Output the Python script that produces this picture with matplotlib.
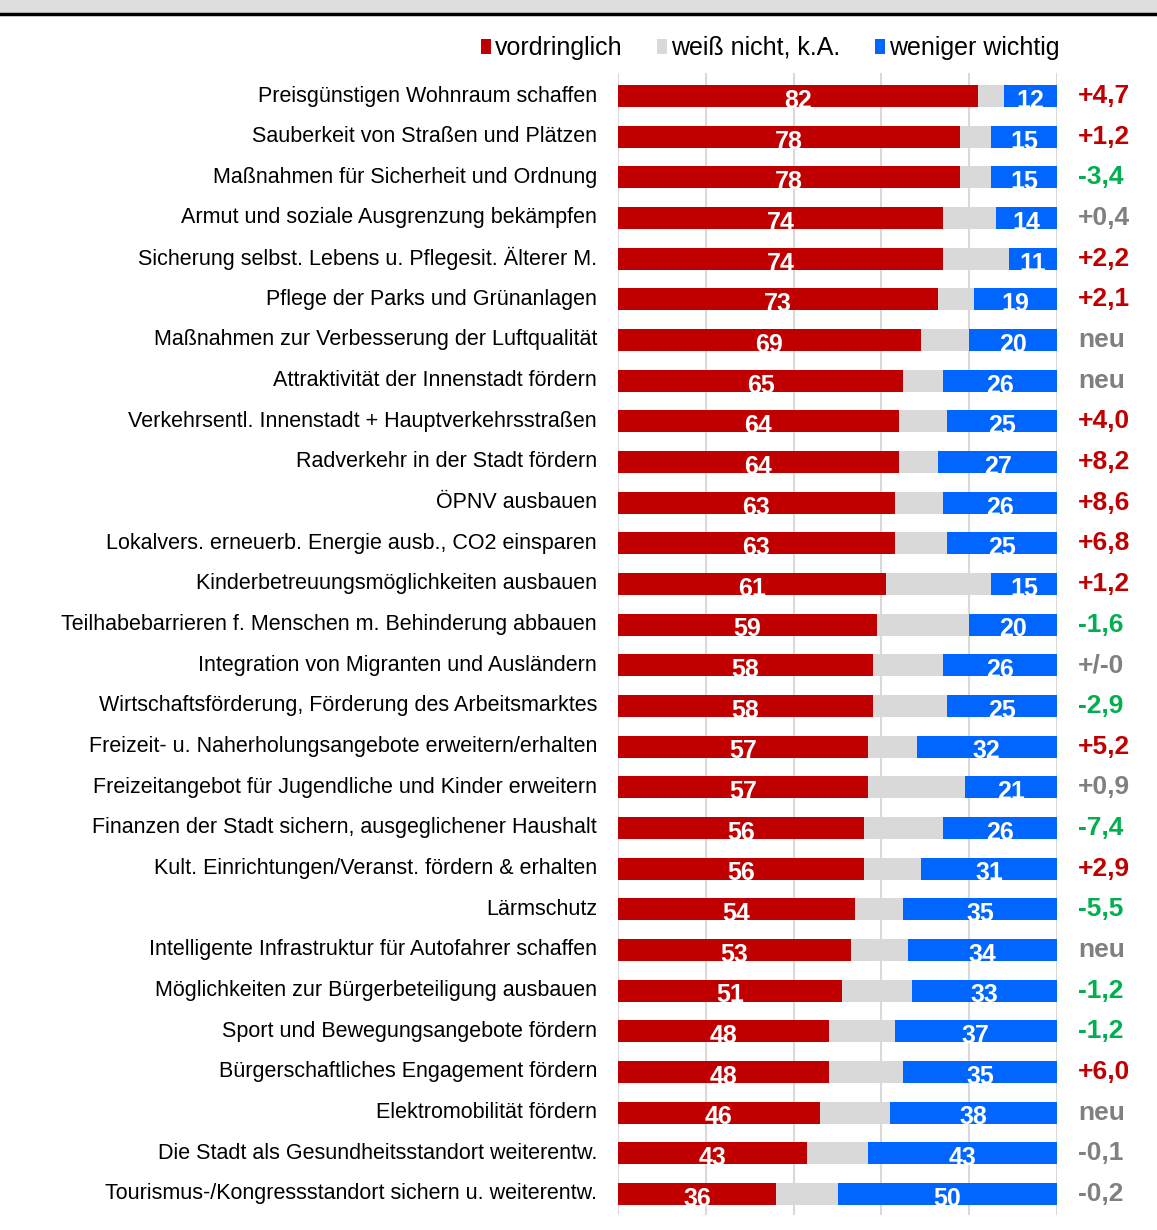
import numpy as np
import matplotlib
matplotlib.use('Agg')
import matplotlib.pyplot as plt
from matplotlib.patches import Rectangle, Patch
from matplotlib.lines import Line2D

plt.rcParams['font.family'] = ['Liberation Sans', 'DejaVu Sans']

# Daten
kategorien = [
    'Preisgünstigen Wohnraum schaffen',
    'Sauberkeit von Straßen und Plätzen',
    'Maßnahmen für Sicherheit und Ordnung',
    'Armut und soziale Ausgrenzung bekämpfen',
    'Sicherung selbst. Lebens u. Pflegesit. Älterer M.',
    'Pflege der Parks und Grünanlagen',
    'Maßnahmen zur Verbesserung der Luftqualität',
    'Attraktivität der Innenstadt fördern',
    'Verkehrsentl. Innenstadt + Hauptverkehrsstraßen',
    'Radverkehr in der Stadt fördern',
    'ÖPNV ausbauen',
    'Lokalvers. erneuerb. Energie ausb., CO2 einsparen',
    'Kinderbetreuungsmöglichkeiten ausbauen',
    'Teilhabebarrieren f. Menschen m. Behinderung abbauen',
    'Integration von Migranten und Ausländern',
    'Wirtschaftsförderung, Förderung des Arbeitsmarktes',
    'Freizeit- u. Naherholungsangebote erweitern/erhalten',
    'Freizeitangebot für Jugendliche und Kinder erweitern',
    'Finanzen der Stadt sichern, ausgeglichener Haushalt',
    'Kult. Einrichtungen/Veranst. fördern & erhalten',
    'Lärmschutz',
    'Intelligente Infrastruktur für Autofahrer schaffen',
    'Möglichkeiten zur Bürgerbeteiligung ausbauen',
    'Sport und Bewegungsangebote fördern',
    'Bürgerschaftliches Engagement fördern',
    'Elektromobilität fördern',
    'Die Stadt als Gesundheitsstandort weiterentw.',
    'Tourismus-/Kongressstandort sichern u. weiterentw.',
]
vordringlich = [82, 78, 78, 74, 74, 73, 69, 65, 64, 64, 63, 63, 61, 59,
                58, 58, 57, 57, 56, 56, 54, 53, 51, 48, 48, 46, 43, 36]
weiss_nicht = [6, 7, 7, 12, 15, 8, 11, 9, 11, 9, 11, 12, 24, 21,
               16, 17, 11, 22, 18, 13, 11, 13, 16, 15, 17, 16, 14, 14]
weniger = [12, 15, 15, 14, 11, 19, 20, 26, 25, 27, 26, 25, 15, 20,
           26, 25, 32, 21, 26, 31, 35, 34, 33, 37, 35, 38, 43, 50]
veraenderung = ['+4,7', '+1,2', '-3,4', '+0,4', '+2,2', '+2,1', 'neu', 'neu',
                '+4,0', '+8,2', '+8,6', '+6,8', '+1,2', '-1,6', '+/-0', '-2,9',
                '+5,2', '+0,9', '-7,4', '+2,9', '-5,5', 'neu', '-1,2', '-1,2',
                '+6,0', 'neu', '-0,1', '-0,2']
# r = gestiegen (rot), g = gesunken (grün), n = neutral/neu (grau)
veraenderung_farbe = ['r', 'r', 'g', 'n', 'r', 'r', 'n', 'n', 'r', 'r', 'r', 'r',
                      'r', 'g', 'n', 'g', 'r', 'n', 'g', 'r', 'g', 'n', 'g', 'g',
                      'r', 'n', 'n', 'n']

ROT = '#C00000'
GRAU = '#D9D9D9'
BLAU = '#0066FF'
farbmap = {'r': '#C00000', 'g': '#00B050', 'n': '#808080'}

fig = plt.figure(figsize=(11.57, 12.30), dpi=100)

# Titelband oben (abgeschnitten)
fig.patches.append(Rectangle((0, 1 - 13 / 1230), 1, 13 / 1230, transform=fig.transFigure,
                             facecolor='#DEDEDE', edgecolor='none', zorder=0))
fig.add_artist(Line2D([0, 1], [1 - 14 / 1230, 1 - 14 / 1230], transform=fig.transFigure,
                      color='black', linewidth=2.5))

ax = fig.add_axes([618 / 1157, 1 - 1215 / 1230, 439 / 1157, (1215 - 73) / 1230])

y = np.arange(len(kategorien))
v = np.array(vordringlich)
w = np.array(weiss_nicht)
b = np.array(weniger)
h = 0.54

ax.barh(y, v, height=h, color=ROT, zorder=3)
ax.barh(y, w, left=v, height=h, color=GRAU, zorder=3)
ax.barh(y, b, left=v + w, height=h, color=BLAU, zorder=3)

for i in range(len(y)):
    ax.text(v[i] / 2, y[i] + 0.12, str(v[i]), ha='center', va='center', color='white',
            fontsize=18, fontweight='bold', zorder=4)
    ax.text(v[i] + w[i] + b[i] / 2, y[i] + 0.12, str(b[i]), ha='center', va='center',
            color='white', fontsize=18, fontweight='bold', zorder=4)
    ax.text(104.8, y[i], veraenderung[i], ha='left', va='center',
            color=farbmap[veraenderung_farbe[i]], fontsize=19, fontweight='bold')
    ax.text(-4.8, y[i], kategorien[i], ha='right', va='center', fontsize=15.5,
            color='black')

ax.set_xlim(0, 100)
ax.set_ylim(27.52, -0.566)
ax.set_xticks([0, 20, 40, 60, 80, 100])
ax.grid(axis='x', color='#D9D9D9', linewidth=1.5, zorder=0)
ax.tick_params(left=False, bottom=False, labelleft=False, labelbottom=False)
for s in ax.spines.values():
    s.set_visible(False)

handles = [Patch(facecolor=ROT), Patch(facecolor=GRAU), Patch(facecolor=BLAU)]
fig.legend(handles, ['vordringlich', 'weiß nicht, k.A.', 'weniger wichtig'],
           loc='center', bbox_to_anchor=(770 / 1157, 1 - 48 / 1230), ncol=3,
           frameon=False, fontsize=18, handlelength=0.4, handleheight=0.55,
           handletextpad=0.15, columnspacing=1.4, borderaxespad=0)

fig.savefig('out.png', dpi=100)
